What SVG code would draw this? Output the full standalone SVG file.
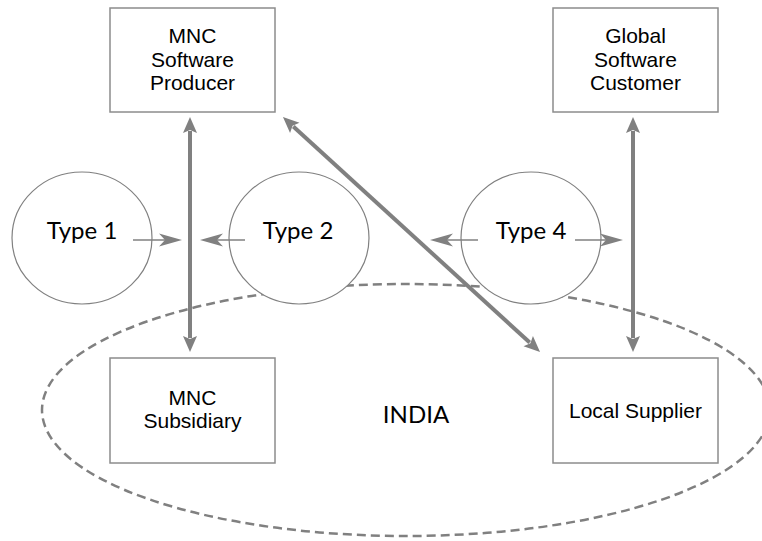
<svg xmlns="http://www.w3.org/2000/svg" width="762" height="541" viewBox="0 0 762 541">
  <style>
    .box { fill: #ffffff; stroke: #8c8c8c; stroke-width: 1.5; }
    .circ { fill: #ffffff; stroke: #808080; stroke-width: 1.2; }
    .region { fill: none; stroke: #808080; stroke-width: 2.5; stroke-dasharray: 9 5; }
    .lbl { font-family: "Liberation Sans", Arial, sans-serif; font-size: 21px; fill: #000000; text-anchor: middle; }
    .big { font-family: Lato, "Liberation Sans", sans-serif; font-size: 24px; fill: #000000; text-anchor: middle; }
    .thick { stroke: #808080; stroke-width: 4; fill: none; marker-start: url(#bigHead); marker-end: url(#bigHead); }
    .thin { stroke: #808080; stroke-width: 1.5; fill: none; marker-end: url(#smallHead); }
  </style>
  <defs>
    <marker id="bigHead" viewBox="0 -8 18 16" refX="2" refY="0" markerWidth="18" markerHeight="16" markerUnits="userSpaceOnUse" orient="auto-start-reverse">
      <path d="M0,-7 L16,0 L0,7 L3,0 z" fill="#808080"/>
    </marker>
    <marker id="smallHead" viewBox="0 -8 24 16" refX="6" refY="0" markerWidth="24" markerHeight="16" markerUnits="userSpaceOnUse" orient="auto">
      <path d="M0,-6.5 L23,0 L0,6.5 L6,0 z" fill="#808080"/>
    </marker>
  </defs>

  <g id="india-region">
    <ellipse class="region" cx="406" cy="410" rx="364" ry="126"/>
    <text class="big" x="416" y="423" font-size="25">INDIA</text>
  </g>

  <g id="type1">
    <ellipse class="circ" cx="82" cy="238" rx="70" ry="66"/>
    <text class="big" x="82" y="239">Type 1</text>
  </g>
  <g id="type2">
    <ellipse class="circ" cx="299" cy="238" rx="70" ry="66"/>
    <text class="big" x="298" y="239">Type 2</text>
  </g>
  <g id="type4">
    <ellipse class="circ" cx="531" cy="238" rx="70" ry="66"/>
    <text class="big" x="531" y="239">Type 4</text>
  </g>

  <g id="mnc-producer">
    <rect class="box" x="110" y="8" width="165" height="104"/>
    <text class="lbl" x="192.5" y="43">MNC</text>
    <text class="lbl" x="192.5" y="66.5">Software</text>
    <text class="lbl" x="192.5" y="90">Producer</text>
  </g>
  <g id="global-customer">
    <rect class="box" x="553" y="8" width="165" height="104"/>
    <text class="lbl" x="635.5" y="43">Global</text>
    <text class="lbl" x="635.5" y="66.5">Software</text>
    <text class="lbl" x="635.5" y="90">Customer</text>
  </g>
  <g id="mnc-subsidiary">
    <rect class="box" x="110" y="358" width="165" height="105"/>
    <text class="lbl" x="192.5" y="405">MNC</text>
    <text class="lbl" x="192.5" y="428">Subsidiary</text>
  </g>
  <g id="local-supplier">
    <rect class="box" x="553" y="358" width="165" height="105"/>
    <text class="lbl" x="635.5" y="418">Local Supplier</text>
  </g>

  <g id="connectors">
    <line class="thick" x1="190" y1="131" x2="190" y2="338"/>
    <line class="thick" x1="633" y1="131" x2="633" y2="338"/>
    <line class="thick" x1="293.3" y1="126.5" x2="529.7" y2="342.5"/>
    <line class="thin" x1="133" y1="240" x2="165" y2="240"/>
    <line class="thin" x1="245" y1="240" x2="217" y2="240"/>
    <line class="thin" x1="478" y1="240" x2="447" y2="240"/>
    <line class="thin" x1="575" y1="240" x2="606" y2="240"/>
  </g>
</svg>
